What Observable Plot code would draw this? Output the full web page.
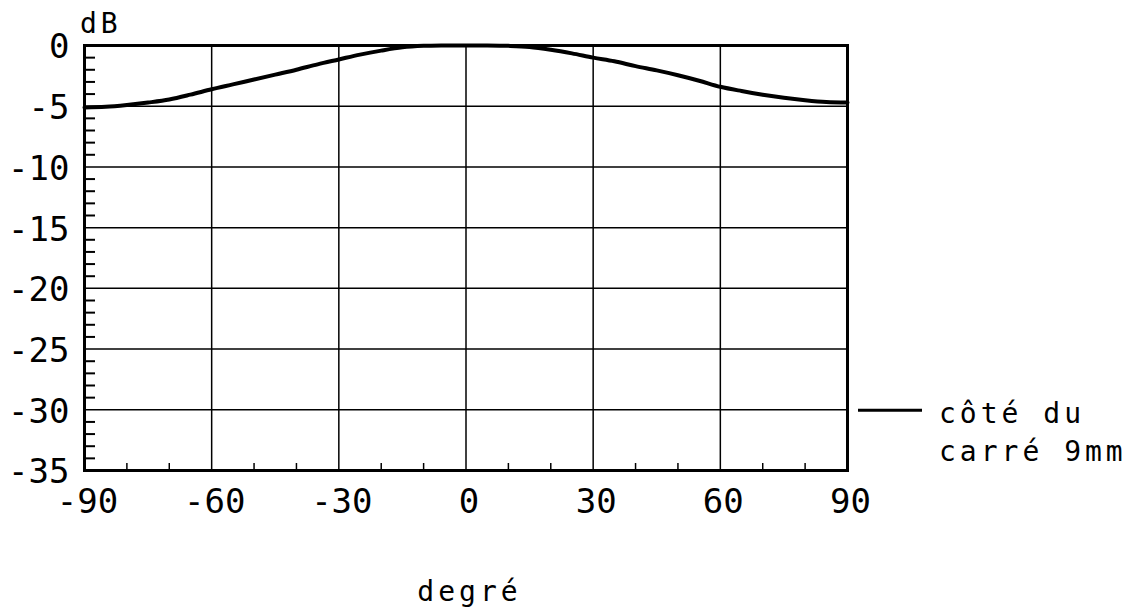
<!DOCTYPE html>
<html>
<head>
<meta charset="utf-8">
<script src="https://cdn.jsdelivr.net/npm/d3@7"></script>
<script src="https://cdn.jsdelivr.net/npm/@observablehq/plot@0.6"></script>
<style>
  html, body { margin: 0; padding: 0; background: #fff; }
  #chart svg { display: block; }
</style>
</head>
<body>
<div id="chart"></div>
<script>
// Data (angle in degrees, level in dB)
const angles = [-90,-85,-80,-75,-70,-65,-60,-55,-50,-45,-40,-35,-30,-25,-20,-15,-10,-5,0,5,10,15,20,25,30,35,40,45,50,55,60,65,70,75,80,85,90];
const levels = [-5.1,-5.05,-4.9,-4.7,-4.45,-4.05,-3.6,-3.2,-2.8,-2.4,-2.0,-1.55,-1.15,-0.75,-0.42,-0.15,-0.03,0,0,0,-0.03,-0.12,-0.35,-0.65,-1.0,-1.3,-1.7,-2.05,-2.45,-2.9,-3.4,-3.75,-4.05,-4.3,-4.5,-4.65,-4.7];
const xTicks = [-90,-60,-30,0,30,60,90];
const xMinorTicks = [-80,-70,-50,-40,-20,-10,10,20,40,50,70,80];
const yTicks = [0,-5,-10,-15,-20,-25,-30,-35];
const yMinorTicks = d3.range(-34, 0).filter(v => v % 5 !== 0);
const yUnit = "dB";
const xLabel = "degré";
const legendLines = ["côté du", "carré 9mm"];

const data = angles.map((a, i) => ({angle: a, level: levels[i]}));
const fmt = v => String(v);
const FONT = "'DejaVu Sans Mono', 'Liberation Mono', monospace";

const W = 1139, H = 611;
const mL = 84, mR = 292, mT = 45, mB = 141;

function labelText(g, x, y, t, anchor) {
  g.append("text")
    .attr("x", x).attr("y", y)
    .attr("text-anchor", anchor)
    .attr("font-family", FONT).attr("font-size", 28)
    .attr("letter-spacing", 4)
    .attr("fill", "black")
    .text(t);
}

function textMarks(index, scales, values, dims) {
  const g = d3.create("svg:g");
  const x0 = dims.width - dims.marginRight;
  const ly = scales.y(-30) + 1;
  // legend swatch
  g.append("line")
    .attr("x1", x0 + 11).attr("x2", x0 + 75)
    .attr("y1", ly).attr("y2", ly)
    .attr("stroke", "black").attr("stroke-width", 3);
  legendLines.forEach((t, i) => labelText(g, x0 + 92, ly + 13 + i * 38, t, "start"));
  // axis titles
  labelText(g, dims.marginLeft - 4, dims.marginTop - 12, yUnit, "start");
  labelText(g, scales.x(0) + 4, dims.height - dims.marginBottom + 131, xLabel, "middle");
  return g.node();
}

const chart = Plot.plot({
  width: W, height: H,
  marginLeft: mL, marginRight: mR, marginTop: mT, marginBottom: mB,
  style: {fontFamily: FONT, background: "white", color: "black"},
  x: {domain: [-90, 90]},
  y: {domain: [-35, 0]},
  marks: [
    Plot.gridX(xTicks, {stroke: "black", strokeOpacity: 1, strokeWidth: 1.5}),
    Plot.gridY(yTicks, {stroke: "black", strokeOpacity: 1, strokeWidth: 1.5}),
    Plot.tickY(yMinorTicks, {y: d => d, stroke: "black", strokeWidth: 2, insetRight: (W - mL - mR) - 11}),
    Plot.tickX(xMinorTicks, {x: d => d, stroke: "black", strokeWidth: 1.5, insetTop: (H - mT - mB) - 7}),
    Plot.frame({stroke: "black", strokeWidth: 3}),
    Plot.line(data, {x: "angle", y: "level", stroke: "black", strokeWidth: 4, curve: "catmull-rom"}),
    Plot.axisX(xTicks, {tickSize: 0, tickPadding: 18, fontSize: 34, tickFormat: fmt, dx: 3, label: null, fill: "black"}),
    Plot.axisY(yTicks, {tickSize: 0, tickPadding: 15, fontSize: 34, tickFormat: fmt, dy: 2, label: null, fill: "black"}),
    textMarks
  ]
});
document.getElementById("chart").appendChild(chart);
</script>
</body>
</html>
